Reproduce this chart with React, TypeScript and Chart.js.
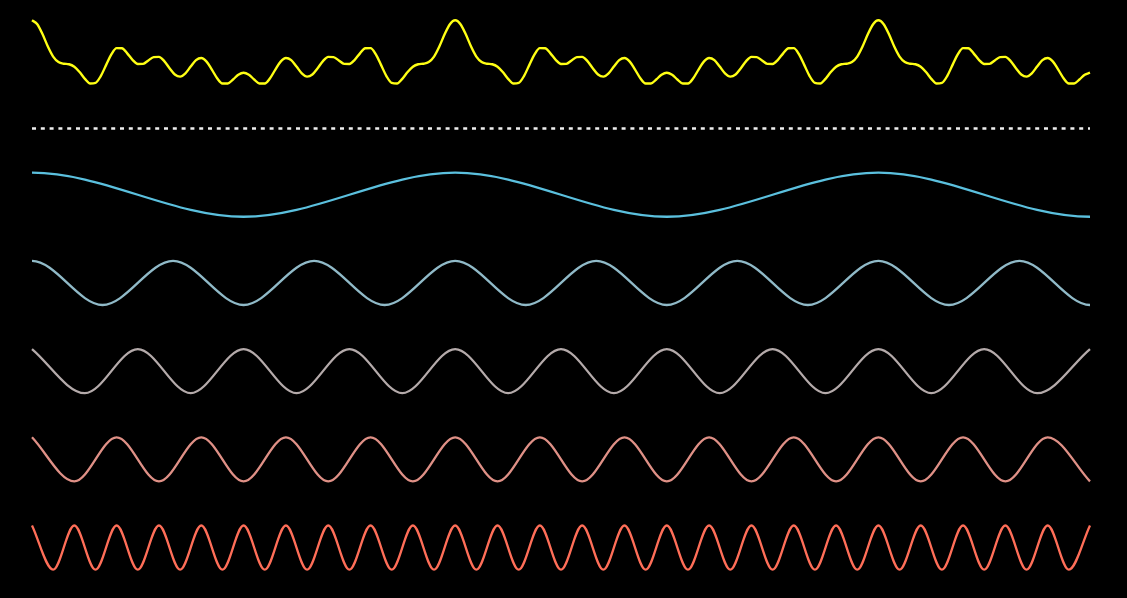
import React, { useEffect, useRef } from "react";
import { Chart, registerables } from "chart.js";

Chart.register(...registerables);

const sumWave = [
  5, 4.551, 3.395, 1.996, 0.848, 0.217, 0.031, -0.03, -0.309, -0.93,
  -1.707, -2.244, -2.172, -1.387, -0.136, 1.09, 1.809, 1.803, 1.219, 0.472,
  0, 0.016, 0.399, 0.787, 0.809, 0.324, -0.482, -1.203, -1.446, -1.072,
  -0.293, 0.442, 0.691, 0.269, -0.649, -1.631, -2.23, -2.235, -1.777, -1.235,
  -1,
  -1.235, -1.777, -2.235, -2.23, -1.631, -0.649, 0.269, 0.691, 0.442, -0.293,
  -1.072, -1.446, -1.203, -0.482, 0.324, 0.809, 0.787, 0.399, 0.016, 0,
  0.472, 1.219, 1.803, 1.809, 1.09, -0.136, -1.387, -2.172, -2.244, -1.707,
  -0.93, -0.309, -0.03, 0.031, 0.217, 0.848, 1.996, 3.395, 4.551, 5,
  4.551, 3.395, 1.996, 0.848, 0.217, 0.031, -0.03, -0.309, -0.93, -1.707,
  -2.244, -2.172, -1.387, -0.136, 1.09, 1.809, 1.803, 1.219, 0.472, 0,
  0.016, 0.399, 0.787, 0.809, 0.324, -0.482, -1.203, -1.446, -1.072, -0.293,
  0.442, 0.691, 0.269, -0.649, -1.631, -2.23, -2.235, -1.777, -1.235, -1,
  -1.235, -1.777, -2.235, -2.23, -1.631, -0.649, 0.269, 0.691, 0.442, -0.293,
  -1.072, -1.446, -1.203, -0.482, 0.324, 0.809, 0.787, 0.399, 0.016, 0,
  0.472, 1.219, 1.803, 1.809, 1.09, -0.136, -1.387, -2.172, -2.244, -1.707,
  -0.93, -0.309, -0.03, 0.031, 0.217, 0.848, 1.996, 3.395, 4.551, 5,
  4.551, 3.395, 1.996, 0.848, 0.217, 0.031, -0.03, -0.309, -0.93, -1.707,
  -2.244, -2.172, -1.387, -0.136, 1.09, 1.809, 1.803, 1.219, 0.472, 0,
  0.016, 0.399, 0.787, 0.809, 0.324, -0.482, -1.203, -1.446, -1.072, -0.293,
  0.442, 0.691, 0.269, -0.649, -1.631, -2.23, -2.235, -1.777, -1.235, -1,
];

// Divider (dashed white line)
const dividerLine = [0, 0];

// Component waves, given at their peaks and troughs.
// wave1 and wave2 include the neighbouring extremum just outside each edge (clipped away).
const wave1 = [-1, 1, -1, 1, -1, 1, -1, 1];
const wave2 = [-1, 1, -1, 1, -1, 1, -1, 1, -1, 1, -1, 1, -1, 1, -1, 1, -1, 1];
const wave3 = [1, -1, 1, -1, 1, -1, 1, -1, 1, -1, 1, -1, 1, -1, 1, -1, 1, -1, 1, -1, 1];
const wave4 = [1, -1, 1, -1, 1, -1, 1, -1, 1, -1, 1, -1, 1, -1, 1, -1, 1, -1, 1, -1, 1, -1, 1, -1, 1, -1];
const wave5 = [
  1, -1, 1, -1, 1, -1, 1, -1, 1, -1, 1, -1, 1, -1, 1, -1, 1, -1, 1, -1,
  1, -1, 1, -1, 1, -1, 1, -1, 1, -1, 1, -1, 1, -1, 1, -1, 1, -1, 1, -1,
  1, -1, 1, -1, 1, -1, 1, -1, 1, -1, 1,
];

// x-span shared by all series
const X_MAX = 600;

export default function App() {
  const ref = useRef<HTMLCanvasElement>(null);

  useEffect(() => {
    document.body.style.backgroundColor = "#000";
    const lanes = [
      { values: sumWave, outside: 0, offset: 21.93, scale: 0.396, color: "#ffff14", width: 2.4, dash: null as number[] | null },
      { values: dividerLine, outside: 0, offset: 19, scale: 1, color: "#efefef", width: 2.4, dash: [4, 4.8] },
      { values: wave1, outside: 1, offset: 16, scale: 1, color: "#5bc0de", width: 2.3, dash: null },
      { values: wave2, outside: 1, offset: 12, scale: 1, color: "#90bac8", width: 2.3, dash: null },
      { values: wave3, outside: 0, offset: 8, scale: 1, color: "#b4aaaa", width: 2.3, dash: null },
      { values: wave4, outside: 0, offset: 4, scale: 1, color: "#df9086", width: 2.3, dash: null },
      { values: wave5, outside: 0, offset: 0, scale: 1, color: "#ff6e58", width: 2.3, dash: null },
    ];

    const chart = new Chart(ref.current!, {
      type: "line",
      data: {
        datasets: lanes.map((l) => {
          const step = X_MAX / (l.values.length - 1 - 2 * l.outside);
          return {
            data: l.values.map((v, i) => ({ x: (i - l.outside) * step, y: l.offset + v * l.scale })),
            borderColor: l.color,
            borderWidth: l.width,
            borderDash: l.dash || [],
            pointRadius: 0,
            fill: false,
            tension: l.dash ? 0 : 0.4,
            cubicInterpolationMode: l.dash ? "default" : "monotone",
            clip: l.outside ? { left: 0, right: 0, top: false, bottom: false } : 2,
          } as any;
        }),
      },
      options: {
        animation: false,
        responsive: false,
        events: [],
        layout: { padding: { left: 24, right: 29, top: 1.5, bottom: 11.6 } },
        scales: {
          x: { type: "linear", min: 0, max: X_MAX, display: false },
          y: { type: "linear", min: -1.4, max: 24.4, display: false },
        },
        plugins: { legend: { display: false }, tooltip: { enabled: false } },
      },
    });
    return () => chart.destroy();
  }, []);

  return (
    <div style={{ width: 1111, height: 582 }}>
      <canvas ref={ref} width={1111} height={582} style={{ display: "block" }} />
    </div>
  );
}
